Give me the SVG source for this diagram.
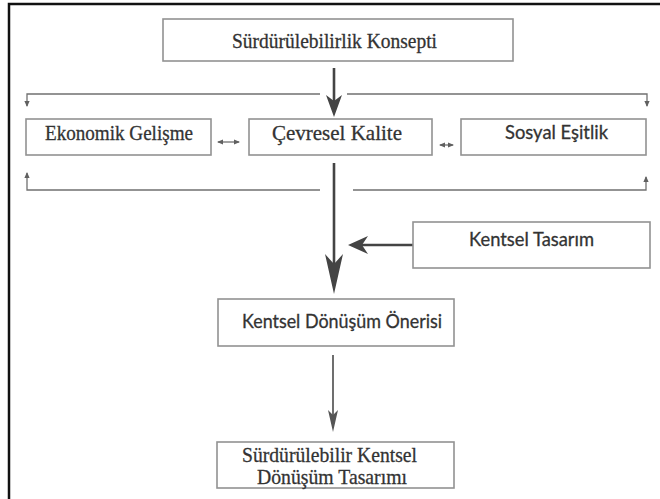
<svg xmlns="http://www.w3.org/2000/svg" width="660" height="499" viewBox="0 0 660 499">
<style>
  .box { fill: #ffffff; stroke: #929292; stroke-width: 1.6; }
  .ser { font-family: "Liberation Serif", "DejaVu Serif", serif; font-size: 21.5px; fill: #333333; stroke: #333333; stroke-width: 0.3; text-anchor: middle; }
  .san { font-family: Lato, "Liberation Sans", sans-serif; font-size: 19px; fill: #333333; stroke: #333333; stroke-width: 0.3; text-anchor: middle; }
  .thin { fill: none; stroke: #707070; stroke-width: 1.3; }
  .thick { fill: none; stroke: #444444; stroke-width: 2.6; }
  .med { fill: none; stroke: #555555; stroke-width: 1.7; }
</style>
<defs>
  <marker id="sm" markerUnits="userSpaceOnUse" viewBox="-7 -4 8 8" refX="-1" refY="0" markerWidth="8" markerHeight="8" orient="auto-start-reverse">
    <path d="M0,0 L-6,-2.6 L-6,2.6 Z" fill="#606060"/>
  </marker>
  <marker id="bigTop" markerUnits="userSpaceOnUse" viewBox="-24 -10 26 20" refX="-8" refY="0" markerWidth="26" markerHeight="20" orient="auto">
    <path d="M0,0 L-22,-8 L-16,0 L-22,8 Z" fill="#444444"/>
  </marker>
  <marker id="bigLong" markerUnits="userSpaceOnUse" viewBox="-42 -10 44 20" refX="-12" refY="0" markerWidth="44" markerHeight="20" orient="auto">
    <path d="M0,0 L-40,-9 L-30,0 L-40,9 Z" fill="#444444"/>
  </marker>
  <marker id="bigSide" markerUnits="userSpaceOnUse" viewBox="-22 -10 24 20" refX="-8" refY="0" markerWidth="24" markerHeight="20" orient="auto">
    <path d="M0,0 L-20,-9 L-14,0 L-20,9 Z" fill="#444444"/>
  </marker>
  <marker id="medHead" markerUnits="userSpaceOnUse" viewBox="-24 -7 26 14" refX="-8" refY="0" markerWidth="26" markerHeight="14" orient="auto">
    <path d="M0,0 L-22,-5 L-17,0 L-22,5 Z" fill="#555555"/>
  </marker>
</defs>

<!-- outer frame -->
<g id="frame">
  <path d="M9,499 L9,4 L660,4" fill="none" stroke="#111111" stroke-width="2.5"/>
</g>

<g id="connectors">
  <!-- main: Sürdürülebilirlik Konsepti -> Çevresel Kalite -->
  <line class="thick" x1="334" y1="68" x2="334" y2="109" marker-end="url(#bigTop)"/>
  <!-- top branch -->
  <polyline class="thin" points="320,94 27,94 27,106" marker-end="url(#sm)"/>
  <polyline class="thin" points="347,94 647,94 647,106" marker-end="url(#sm)"/>
  <!-- bottom branch -->
  <polyline class="thin" points="320,190 27,190 27,173" marker-end="url(#sm)"/>
  <polyline class="thin" points="353,190 646,190 646,177" marker-end="url(#sm)"/>
  <!-- double arrows -->
  <line class="thin" x1="218" y1="142" x2="239" y2="142" marker-start="url(#sm)" marker-end="url(#sm)"/>
  <line class="thin" x1="440" y1="145" x2="453" y2="145" marker-start="url(#sm)" marker-end="url(#sm)"/>
  <!-- Çevresel Kalite -> Kentsel Dönüşüm Önerisi -->
  <line class="thick" x1="334" y1="163" x2="334" y2="282" marker-end="url(#bigLong)"/>
  <!-- Kentsel Tasarım -> main line -->
  <line class="thick" x1="413" y1="245" x2="356" y2="245" marker-end="url(#bigSide)"/>
  <!-- Kentsel Dönüşüm Önerisi -> final -->
  <line class="med" x1="333" y1="355" x2="333" y2="424" marker-end="url(#medHead)"/>
</g>

<g id="node-konsept">
  <rect class="box" x="163" y="19" width="350" height="42"/>
  <text class="ser" x="334.5" y="48" textLength="205" lengthAdjust="spacingAndGlyphs">Sürdürülebilirlik Konsepti</text>
</g>

<g id="node-ekonomik">
  <rect class="box" x="26" y="119" width="185" height="36"/>
  <text class="ser" x="119" y="140" textLength="148" lengthAdjust="spacingAndGlyphs">Ekonomik Gelişme</text>
</g>

<g id="node-cevresel">
  <rect class="box" x="249" y="119" width="183" height="36"/>
  <text class="ser" x="337" y="140" textLength="130" lengthAdjust="spacingAndGlyphs">Çevresel Kalite</text>
</g>

<g id="node-sosyal">
  <rect class="box" x="461" y="119" width="185" height="36"/>
  <text class="san" x="556.5" y="139" textLength="103" lengthAdjust="spacingAndGlyphs">Sosyal Eşitlik</text>
</g>

<g id="node-kentsel-tasarim">
  <rect class="box" x="413" y="222" width="237" height="46"/>
  <text class="san" x="531.5" y="246" textLength="125" lengthAdjust="spacingAndGlyphs">Kentsel Tasarım</text>
</g>

<g id="node-oneri">
  <rect class="box" x="218" y="299" width="236" height="47"/>
  <text class="san" x="342" y="328" textLength="200" lengthAdjust="spacingAndGlyphs">Kentsel Dönüşüm Önerisi</text>
</g>

<g id="node-final">
  <rect class="box" x="217" y="442" width="237" height="46"/>
  <text class="ser" x="329.5" y="462" textLength="175" lengthAdjust="spacingAndGlyphs">Sürdürülebilir Kentsel</text>
  <text class="ser" x="332" y="484" textLength="150" lengthAdjust="spacingAndGlyphs">Dönüşüm Tasarımı</text>
</g>
</svg>
